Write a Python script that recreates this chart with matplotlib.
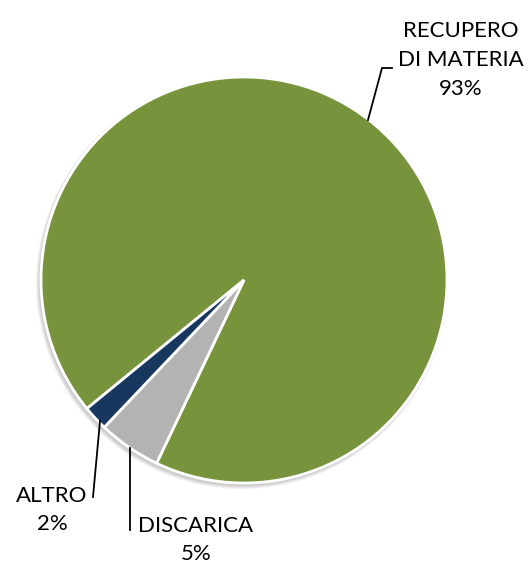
import matplotlib.pyplot as plt
from matplotlib.patches import Circle

# Destinazione dei rifiuti (%)
labels = ['RECUPERO\nDI MATERIA', 'DISCARICA', 'ALTRO']
values = [93, 5, 2]
colors = ['#77933C', '#B3B3B3', '#17375E']

W, H = 531, 564
fig = plt.figure(figsize=(W / 100, H / 100), dpi=100)
ax = fig.add_axes([0, 0, 1, 1])

cx, cy, r = 244, H - 280, 203

# soft shadow under the pie
for k in range(4):
    ax.add_patch(Circle((cx - 2, cy - 3), r + k, color='black', alpha=0.05, lw=0, zorder=0))

ax.pie(values, colors=colors, startangle=219.3, counterclock=False,
       center=(cx, cy), radius=r, frame=True,
       wedgeprops=dict(edgecolor='white', linewidth=2))
ax.set_xlim(0, W)
ax.set_ylim(0, H)
ax.set_aspect('equal')
ax.axis('off')

font = dict(family='Lato', fontsize=16, color='black', ha='center', va='center',
            linespacing=1.55)

# etichette con linee di richiamo
ax.text(461, H - 60, labels[0] + '\n%d%%' % values[0], **font)
ax.plot([368, 382, 392], [H - 120, H - 68, H - 68], color='black', lw=1.3)

ax.text(52, H - 510, labels[2] + '\n%d%%' % values[2], **font)
ax.plot([100, 93], [H - 421, H - 497], color='black', lw=1.3)

ax.text(196, H - 540, labels[1] + '\n%d%%' % values[1], **font)
ax.plot([130, 130], [H - 448, H - 530], color='black', lw=1.3)

fig.savefig('out.png', dpi=100)
